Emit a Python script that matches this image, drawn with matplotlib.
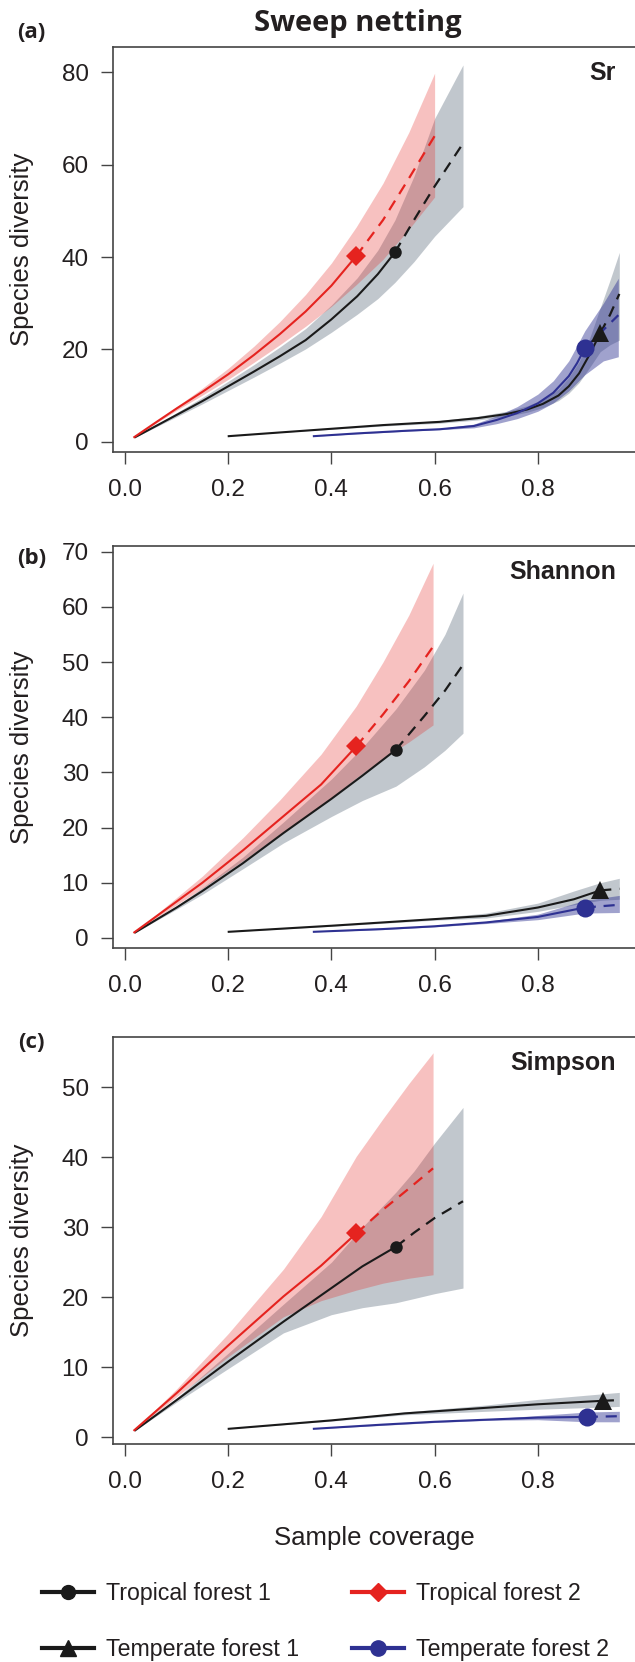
import matplotlib.pyplot as plt
from matplotlib.lines import Line2D

plt.rcParams['font.family'] = ['Liberation Sans', 'DejaVu Sans']

# ---- values: sample coverage (x), diversity (y), CI (lo/hi)
# obs = index of the observed sample (marker); solid before, dashed after

# (a) species richness
sr_tf1_x = [0.02, 0.06, 0.10, 0.15, 0.20, 0.25, 0.30, 0.35, 0.40, 0.45, 0.49, 0.523, 0.56, 0.60, 0.655]
sr_tf1_y = [1.0, 3.4, 5.8, 8.8, 12.0, 15.2, 18.5, 22.0, 26.5, 31.5, 36.3, 41.0, 48.0, 55.3, 64.6]
sr_tf1_lo = [1.0, 3.2, 5.4, 8.2, 11.1, 14.0, 17.0, 20.1, 23.7, 27.6, 31.0, 34.5, 39.0, 44.5, 50.9]
sr_tf1_hi = [1.0, 3.6, 6.3, 9.6, 13.1, 16.7, 20.5, 24.5, 29.6, 35.5, 41.5, 48.0, 57.5, 70.0, 81.6]
sr_tf1_obs = 11

sr_tf2_x = [0.018, 0.06, 0.10, 0.15, 0.20, 0.25, 0.30, 0.35, 0.40, 0.448, 0.50, 0.55, 0.60]
sr_tf2_y = [1.0, 4.2, 7.2, 10.8, 14.6, 18.8, 23.3, 28.2, 33.8, 40.2, 48.0, 57.0, 66.2]
sr_tf2_lo = [1.0, 4.0, 6.8, 10.1, 13.5, 17.2, 21.0, 25.0, 29.3, 34.0, 39.5, 46.0, 53.0]
sr_tf2_hi = [1.0, 4.4, 7.6, 11.6, 15.9, 20.7, 26.0, 31.9, 38.7, 46.5, 56.0, 67.0, 79.8]
sr_tf2_obs = 9

sr_te1_x = [0.201, 0.30, 0.40, 0.50, 0.61, 0.683, 0.74, 0.78, 0.81, 0.84, 0.86, 0.88, 0.90, 0.921, 0.94, 0.958]
sr_te1_y = [1.2, 2.0, 2.8, 3.6, 4.3, 5.1, 6.0, 7.0, 8.2, 10.0, 12.0, 14.8, 18.8, 23.5, 27.5, 32.0]
sr_te1_lo = [1.2, 2.0, 2.7, 3.4, 4.0, 4.7, 5.5, 6.4, 7.4, 8.9, 10.5, 12.8, 16.0, 19.5, 21.0, 22.0]
sr_te1_hi = [1.2, 2.1, 2.9, 3.8, 4.6, 5.5, 6.6, 7.8, 9.2, 11.4, 13.9, 17.3, 22.3, 29.0, 35.0, 41.0]
sr_te1_obs = 13

sr_te2_x = [0.366, 0.45, 0.55, 0.61, 0.676, 0.72, 0.76, 0.80, 0.83, 0.86, 0.876, 0.891, 0.927, 0.956]
sr_te2_y = [1.2, 1.8, 2.4, 2.7, 3.4, 4.7, 6.2, 8.3, 10.6, 14.2, 17.0, 20.2, 24.2, 27.4]
sr_te2_lo = [1.2, 1.7, 2.3, 2.6, 3.0, 3.9, 5.0, 6.6, 8.4, 11.0, 12.8, 14.5, 17.5, 18.4]
sr_te2_hi = [1.2, 1.9, 2.5, 2.9, 3.8, 5.6, 7.6, 10.3, 13.2, 17.5, 20.8, 24.0, 30.0, 35.4]
sr_te2_obs = 11

# (b) Shannon
sh_tf1_x = [0.02, 0.10, 0.15, 0.228, 0.307, 0.40, 0.46, 0.525, 0.58, 0.62, 0.655]
sh_tf1_y = [1.0, 5.5, 8.5, 13.5, 19.0, 25.2, 29.4, 34.1, 40.2, 44.8, 49.5]
sh_tf1_lo = [1.0, 5.2, 7.9, 12.5, 17.2, 22.0, 24.9, 27.5, 31.0, 34.0, 37.1]
sh_tf1_hi = [1.0, 5.8, 9.1, 14.6, 21.0, 28.8, 34.5, 41.5, 48.5, 55.0, 62.5]
sh_tf1_obs = 7

sh_tf2_x = [0.018, 0.087, 0.15, 0.229, 0.30, 0.38, 0.448, 0.50, 0.55, 0.597]
sh_tf2_y = [1.0, 5.7, 10.0, 15.9, 21.5, 27.8, 34.7, 40.5, 46.5, 52.8]
sh_tf2_lo = [1.0, 5.2, 9.0, 14.0, 18.8, 23.9, 29.0, 32.5, 35.5, 38.6]
sh_tf2_hi = [1.0, 6.3, 11.2, 18.2, 25.0, 33.3, 42.0, 50.0, 58.5, 67.9]
sh_tf2_obs = 6

sh_te1_x = [0.201, 0.40, 0.60, 0.70, 0.80, 0.87, 0.921, 0.958]
sh_te1_y = [1.1, 2.2, 3.4, 4.0, 5.5, 7.0, 8.6, 8.9]
sh_te1_lo = [1.1, 2.1, 3.2, 3.6, 4.8, 6.0, 6.8, 7.0]
sh_te1_hi = [1.1, 2.3, 3.6, 4.5, 6.3, 8.5, 10.0, 10.8]
sh_te1_obs = 6

sh_te2_x = [0.366, 0.50, 0.60, 0.70, 0.80, 0.891, 0.958]
sh_te2_y = [1.1, 1.6, 2.1, 2.8, 3.8, 5.5, 6.0]
sh_te2_lo = [1.1, 1.5, 2.0, 2.6, 3.3, 4.5, 4.6]
sh_te2_hi = [1.1, 1.7, 2.2, 3.0, 4.3, 6.8, 7.7]
sh_te2_obs = 5

# (c) Simpson
si_tf1_x = [0.02, 0.10, 0.20, 0.307, 0.40, 0.46, 0.525, 0.56, 0.60, 0.655]
si_tf1_y = [1.0, 5.3, 10.8, 16.5, 21.3, 24.4, 27.2, 29.2, 31.3, 33.7]
si_tf1_lo = [1.0, 5.0, 9.8, 14.9, 17.5, 18.5, 19.2, 19.8, 20.5, 21.3]
si_tf1_hi = [1.0, 5.6, 12.0, 19.0, 25.0, 30.0, 35.0, 38.0, 42.0, 47.1]
si_tf1_obs = 6

si_tf2_x = [0.018, 0.10, 0.20, 0.307, 0.38, 0.448, 0.50, 0.55, 0.597]
si_tf2_y = [1.0, 6.3, 13.1, 20.1, 24.5, 29.1, 32.5, 35.5, 38.4]
si_tf2_lo = [1.0, 5.8, 11.5, 17.2, 19.5, 21.0, 22.0, 22.7, 23.2]
si_tf2_hi = [1.0, 6.9, 14.8, 24.0, 31.5, 40.1, 45.5, 50.5, 54.9]
si_tf2_obs = 5

si_te1_x = [0.201, 0.40, 0.542, 0.70, 0.80, 0.926, 0.958]
si_te1_y = [1.2, 2.4, 3.4, 4.2, 4.7, 5.2, 5.3]
si_te1_lo = [1.2, 2.3, 3.2, 3.7, 4.0, 4.3, 4.4]
si_te1_hi = [1.2, 2.5, 3.6, 4.6, 5.4, 6.2, 6.4]
si_te1_obs = 5

si_te2_x = [0.366, 0.50, 0.60, 0.70, 0.80, 0.895, 0.958]
si_te2_y = [1.2, 1.8, 2.2, 2.5, 2.8, 2.9, 3.0]
si_te2_lo = [1.2, 1.7, 2.1, 2.4, 2.5, 2.2, 2.2]
si_te2_hi = [1.2, 1.9, 2.3, 2.6, 3.1, 3.6, 3.7]
si_te2_obs = 5

x_ticks = [0.0, 0.2, 0.4, 0.6, 0.8]
x_ticklabels = ['0.0', '0.2', '0.4', '0.6', '0.8']
sr_yticks = [0, 20, 40, 60, 80]
sh_yticks = [0, 10, 20, 30, 40, 50, 60, 70]
si_yticks = [0, 10, 20, 30, 40, 50]
site_names = ['Tropical forest 1', 'Tropical forest 2', 'Temperate forest 1', 'Temperate forest 2']

BLACK = '#1a1a1a'
RED = '#e5231f'
BLUE = '#2e3192'
GRAYF = '#34485c'
TXT = '#231f20'


def curve(ax, x, y, lo, hi, k, col, fcol, alpha, mk, ms, z):
    ax.fill_between(x, lo, hi, color=fcol, alpha=alpha, lw=0, zorder=z)
    ax.plot(x[:k + 1], y[:k + 1], color=col, lw=1.5, zorder=z + 10)
    ax.plot(x[k:], y[k:], color=col, lw=1.6, ls=(0, (5, 3.5)), zorder=z + 10)
    ax.plot(x[k], y[k], marker=mk, ms=ms, color=col, mew=0, zorder=z + 20)


fig = plt.figure(figsize=(6.35, 16.62), dpi=100)
H = 1662.0

panels = [
    # top px, bottom px, ylim, yticks, name, letter, letter y px
    (46.7, 452.0, (-2.23, 85.55), sr_yticks, 'Sr', '(a)', 32),
    (546.0, 948.3, (-1.89, 71.03), sh_yticks, 'Shannon', '(b)', 558),
    (1036.7, 1443.5, (-0.9, 57.2), si_yticks, 'Simpson', '(c)', 1042),
]
data = [
    [(sr_tf1_x, sr_tf1_y, sr_tf1_lo, sr_tf1_hi, sr_tf1_obs),
     (sr_tf2_x, sr_tf2_y, sr_tf2_lo, sr_tf2_hi, sr_tf2_obs),
     (sr_te1_x, sr_te1_y, sr_te1_lo, sr_te1_hi, sr_te1_obs),
     (sr_te2_x, sr_te2_y, sr_te2_lo, sr_te2_hi, sr_te2_obs)],
    [(sh_tf1_x, sh_tf1_y, sh_tf1_lo, sh_tf1_hi, sh_tf1_obs),
     (sh_tf2_x, sh_tf2_y, sh_tf2_lo, sh_tf2_hi, sh_tf2_obs),
     (sh_te1_x, sh_te1_y, sh_te1_lo, sh_te1_hi, sh_te1_obs),
     (sh_te2_x, sh_te2_y, sh_te2_lo, sh_te2_hi, sh_te2_obs)],
    [(si_tf1_x, si_tf1_y, si_tf1_lo, si_tf1_hi, si_tf1_obs),
     (si_tf2_x, si_tf2_y, si_tf2_lo, si_tf2_hi, si_tf2_obs),
     (si_te1_x, si_te1_y, si_te1_lo, si_te1_hi, si_te1_obs),
     (si_te2_x, si_te2_y, si_te2_lo, si_te2_hi, si_te2_obs)],
]
styles = [
    (BLACK, GRAYF, 0.30, 'o', 9, 1),
    (RED, RED, 0.28, 'D', 10, 3),
    (BLACK, GRAYF, 0.30, '^', 13, 1),
    (BLUE, BLUE, 0.45, 'o', 13, 3),
]

left = 113 / 635.0
width = (641 - 113) / 635.0
for (top, bot, ylim, yt, name, letter, ly), series in zip(panels, data):
    ax = fig.add_axes([left, 1 - bot / H, width, (bot - top) / H])
    for (x, y, lo, hi, k), (c, fc, a, mk, ms, z) in zip(series, styles):
        curve(ax, x, y, lo, hi, k, c, fc, a, mk, ms, z)
    ax.set_xlim(-0.0233, 1.0)
    ax.set_ylim(*ylim)
    ax.set_xticks(x_ticks)
    ax.set_xticklabels(x_ticklabels)
    ax.set_yticks(yt)
    ax.tick_params(direction='out', length=8.5, width=1.0, color='#444444',
                   labelsize=17.5, labelcolor=TXT)
    ax.tick_params(axis='x', pad=11)
    ax.tick_params(axis='y', pad=9)
    for s in ax.spines.values():
        s.set_color('#444444')
        s.set_linewidth(1.2)
    ax.set_ylabel('Species diversity', fontsize=18.5, color=TXT)
    ax.yaxis.set_label_coords(-0.150, 0.5)
    ax.text(0.9527, 0.935, name, transform=ax.transAxes, ha='right', va='center',
            fontsize=18, fontweight='bold', color=TXT)
    fig.text(31.6 / 635, 1 - ly / H, letter, ha='center', va='center',
             fontsize=16, fontweight='bold', color=TXT, family=['Open Sans', 'DejaVu Sans'])

fig.text(358 / 635, 1 - 23 / H, 'Sweep netting', ha='center', va='center',
         fontsize=21, fontweight='bold', color=TXT, family=['Open Sans', 'DejaVu Sans'])
fig.text(374.5 / 635, 1 - 1538 / H, 'Sample coverage', ha='center', va='center',
         fontsize=18.5, color=TXT)

# legend fills column-wise: col 1 = TF1, TE1 ; col 2 = TF2, TE2
handles = {
    'Tropical forest 1': Line2D([], [], color=BLACK, lw=3, marker='o', ms=10),
    'Tropical forest 2': Line2D([], [], color=RED, lw=3, marker='D', ms=9),
    'Temperate forest 1': Line2D([], [], color=BLACK, lw=3, marker='^', ms=11),
    'Temperate forest 2': Line2D([], [], color=BLUE, lw=3, marker='o', ms=11),
}
order = [site_names[0], site_names[2], site_names[1], site_names[3]]
fig.legend([handles[n] for n in order], order, ncol=2, loc='center left',
           bbox_to_anchor=(42 / 635, 1 - 1621.5 / H), frameon=False,
           fontsize=16.7, handlelength=2.25, handletextpad=0.5,
           columnspacing=2.3, labelspacing=1.45, borderpad=0, borderaxespad=0,
           labelcolor=TXT)

fig.savefig('out.png', dpi=100)
